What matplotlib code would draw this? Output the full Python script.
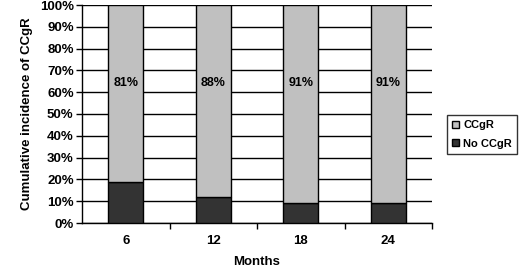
import matplotlib
matplotlib.use("Agg")
import matplotlib.pyplot as plt
import numpy as np

plt.rcParams['font.family'] = ['Liberation Sans', 'DejaVu Sans']
plt.rcParams['font.weight'] = 'bold'

months = ['6', '12', '18', '24']
no_ccgr = [19, 12, 9, 9]
ccgr = [81, 88, 91, 91]
labels = ['81%', '88%', '91%', '91%']

fig = plt.figure(figsize=(5.2, 2.69), dpi=100)
ax = fig.add_axes([82/520, 1-223/269, 350/520, 218/269])

x = np.arange(len(months))
ax.bar(x, no_ccgr, width=0.4, color='#333333', edgecolor='black', linewidth=1, label='No CCgR', zorder=3)
ax.bar(x, ccgr, bottom=no_ccgr, width=0.4, color='#c0c0c0', edgecolor='black', linewidth=1, label='CCgR', zorder=3)
for xi, lab in zip(x, labels):
    ax.text(xi, 64, lab, ha='center', va='center', fontsize=9, fontweight='bold', zorder=4)

ax.set_xlim(-0.5, 3.5)
ax.set_ylim(0, 100)
ax.set_yticks(range(0, 101, 10))
ax.set_yticklabels([f'{v}%' for v in range(0, 101, 10)], fontsize=9.5)
ax.set_xticks(x)
ax.set_xticklabels(months, fontsize=9.5)
ax.set_xticks([0.5, 1.5, 2.5, 3.5], minor=True)
ax.tick_params(axis='x', which='major', length=0, pad=9)
ax.tick_params(axis='x', which='minor', length=4, width=1, direction='out')
ax.tick_params(axis='y', length=4, width=1, direction='out', pad=2)
ax.yaxis.grid(True, color='black', linewidth=1, zorder=0)
ax.set_axisbelow(True)
for s in ['top', 'right']:
    ax.spines[s].set_visible(False)
ax.spines['left'].set_linewidth(1)
ax.spines['bottom'].set_linewidth(1)

ax.set_ylabel('Cumulative incidence of CCgR', fontsize=9.5, fontweight='bold', labelpad=5)
ax.set_xlabel('Months', fontsize=9.5, fontweight='bold', labelpad=6)

handles, labs = ax.get_legend_handles_labels()
leg = fig.legend(handles[::-1], labs[::-1], loc='upper right', bbox_to_anchor=(517/520, 1-115/269),
                 fontsize=8, frameon=True, fancybox=False, edgecolor='black',
                 handlelength=0.6, handleheight=0.6, handletextpad=0.4, borderpad=0.45,
                 labelspacing=0.8, borderaxespad=0)
leg.get_frame().set_linewidth(1)

fig.savefig('out.png', dpi=100)
